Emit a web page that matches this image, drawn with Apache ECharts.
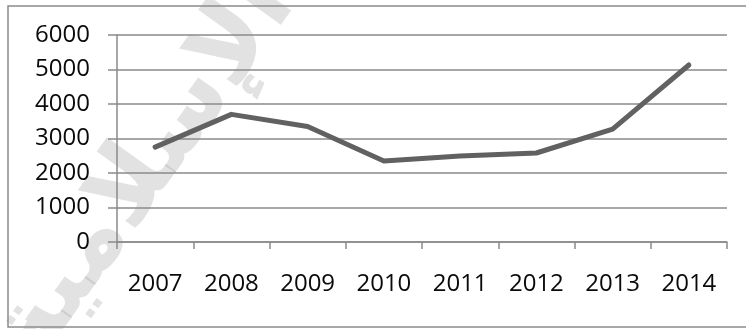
<!DOCTYPE html>
<html>
<head>
<meta charset="utf-8">
<script src="https://cdn.jsdelivr.net/npm/echarts@6/dist/echarts.min.js"></script>
<style>
  html, body { margin: 0; padding: 0; background: #fff; }
  #chart { width: 746px; height: 329px; }
</style>
</head>
<body>
<div id="chart"></div>
<script>
// data
const years = ['2007', '2008', '2009', '2010', '2011', '2012', '2013', '2014']
const values = [2750, 3700, 3350, 2350, 2490, 2580, 3270, 5130]
const yTicks = { min: 0, max: 6000, step: 1000 }

const gridGray = '#8a8a8a'
const font = 'Open Sans'

const chart = echarts.init(document.getElementById('chart'))

const option = {
  backgroundColor: '#fff',
  animation: false,
  grid: {
    left: 117,
    right: 19,
    top: 35,
    bottom: 87
  },
  xAxis: {
    type: 'category',
    data: years,
    boundaryGap: true,
    axisLine: { show: true, lineStyle: { color: gridGray, width: 1.5 } },
    axisTick: { show: true, length: 7, alignWithLabel: false, lineStyle: { color: gridGray, width: 1.5 } },
    axisLabel: { color: '#0a0a0a', fontFamily: font, fontSize: 24, margin: 30 },
    splitLine: { show: false }
  },
  yAxis: {
    type: 'value',
    min: yTicks.min,
    max: yTicks.max,
    interval: yTicks.step,
    axisLine: { show: true, lineStyle: { color: gridGray, width: 1.5 } },
    axisTick: { show: true, length: 9, lineStyle: { color: gridGray, width: 1.5 } },
    axisLabel: {
      color: '#0a0a0a',
      fontFamily: font,
      fontSize: 24,
      margin: 27,
      formatter: (v) => String(v)
    },
    splitLine: { show: true, lineStyle: { color: gridGray, width: 1.5 } }
  },
  graphic: [
    {
      type: 'rect',
      z: -10,
      shape: { x: 8, y: 6, width: 760, height: 321 },
      style: { fill: 'none', stroke: gridGray, lineWidth: 1.5 },
      silent: true
    },
    {
      // faint watermark behind the chart
      type: 'text',
      z: -5,
      x: 145,
      y: 170,
      rotation: 0.95,
      style: {
        text: 'الإسلامية',
        font: 'bold 100px "DejaVu Sans"',
        fill: 'rgba(150,150,150,0.28)',
        align: 'center',
        verticalAlign: 'middle'
      },
      silent: true
    }
  ],
  series: [
    {
      type: 'line',
      data: values,
      symbol: 'none',
      lineStyle: { color: '#616161', width: 5, cap: 'round', join: 'round' }
    }
  ]
}

chart.setOption(option)
window.addEventListener('resize', () => {
  chart.resize()
})
</script>
</body>
</html>
